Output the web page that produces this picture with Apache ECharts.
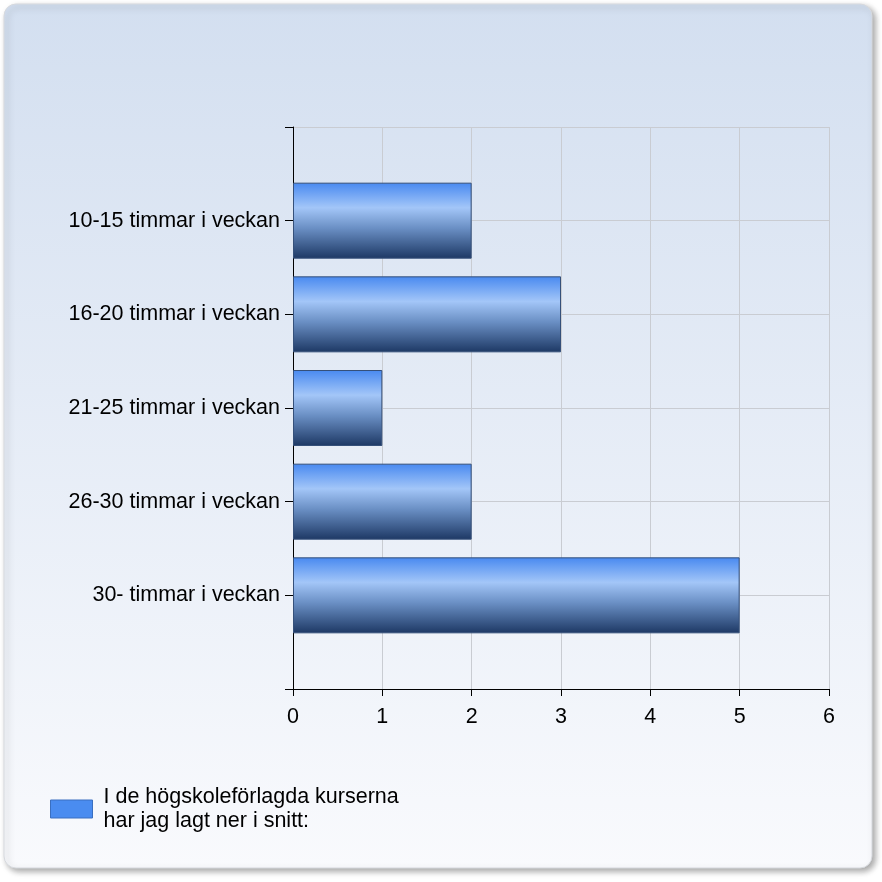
<!DOCTYPE html>
<html><head><meta charset="utf-8">
<script src="https://cdn.jsdelivr.net/npm/echarts@6/dist/echarts.min.js"></script>
<style>html,body{margin:0;padding:0;background:#fff}#c{width:882px;height:882px}</style>
</head><body><div id="c"></div>
<script>
const categories = ['10-15 timmar i veckan','16-20 timmar i veckan','21-25 timmar i veckan','26-30 timmar i veckan','30- timmar i veckan'];
const values = [2, 3, 1, 2, 5];
const xTicks = [0, 1, 2, 3, 4, 5, 6];
const seriesName = 'I de högskoleförlagda kurserna\nhar jag lagt ner i snitt:';

const axisCats = [''].concat(categories, ['']);
const axisVals = ['-'].concat(values, ['-']);
const font = 'Liberation Sans, Arial, sans-serif';
const fs = 21.5;

const chart = echarts.init(document.getElementById('c'), null, {renderer: 'canvas'});
chart.setOption({
  animation: false,
  graphic: [{
    type: 'rect', z: -10, silent: true,
    shape: {x: 4, y: 4, width: 868, height: 864, r: 12},
    style: {
      fill: new echarts.graphic.LinearGradient(0, 0, 0, 1, [
        {offset: 0, color: '#d3dff0'}, {offset: 1, color: '#f9fafd'}
      ]),
      stroke: '#d6d9de', lineWidth: 1,
      shadowBlur: 6, shadowOffsetX: 3, shadowOffsetY: 3, shadowColor: 'rgba(0,0,0,0.35)'
    }
  }],
  grid: {left: 293, right: 53, top: 127, bottom: 193, containLabel: false},
  legend: {
    left: 45, top: 780, orient: 'vertical',
    itemWidth: 42, itemHeight: 18, itemGap: 8,
    icon: 'rect',
    textStyle: {fontFamily: font, fontSize: fs, color: '#000', lineHeight: 24, padding: [0, 0, 0, 6]},
    data: [{name: seriesName, itemStyle: {color: '#4a8cf0', borderColor: '#3a6fc0', borderWidth: 1}}]
  },
  xAxis: {
    type: 'value', min: 0, max: 6, interval: 1,
    axisLine: {show: true, lineStyle: {color: '#000', width: 1}},
    axisTick: {show: true, length: 7, lineStyle: {color: '#000'}},
    axisLabel: {fontFamily: font, fontSize: fs, color: '#000', margin: 17,
      formatter: v => xTicks.includes(v) ? String(v) : ''},
    splitLine: {show: true, lineStyle: {color: '#c9ccd2', width: 1}}
  },
  yAxis: {
    type: 'category', data: axisCats, inverse: true, boundaryGap: false,
    axisLine: {show: true, onZero: false, lineStyle: {color: '#000', width: 1}},
    axisTick: {show: true, length: 8, alignWithLabel: true, lineStyle: {color: '#000'}},
    axisLabel: {fontFamily: font, fontSize: fs, color: '#000', margin: 13, interval: 0},
    splitLine: {show: true, lineStyle: {color: '#c9ccd2', width: 1}}
  },
  series: [{
    name: seriesName, type: 'bar', data: axisVals, barWidth: 76,
    itemStyle: {
      color: new echarts.graphic.LinearGradient(0, 0, 0, 1, [
        {offset: 0, color: '#4889f0'},
        {offset: 0.33, color: '#a3c6f8'},
        {offset: 0.6, color: '#6a8fc4'},
        {offset: 1, color: '#1d3864'}
      ]),
      borderColor: '#35507a', borderWidth: 1
    }
  }]
});
</script></body></html>
